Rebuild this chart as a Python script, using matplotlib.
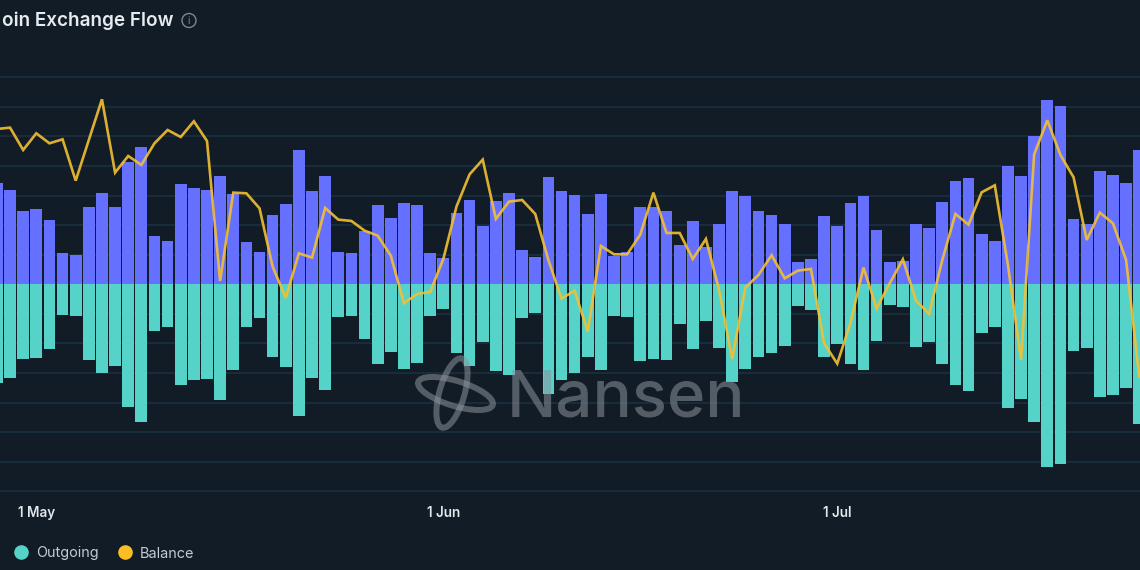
import matplotlib
matplotlib.use("Agg")
import matplotlib.pyplot as plt
import matplotlib.dates as mdates
import pandas as pd
from matplotlib.lines import Line2D
from matplotlib.patches import Ellipse, Circle

plt.rcParams['font.family'] = ['Inter', 'DejaVu Sans']

start_date = "2023-04-28"
incoming = [305,282,221,225,193,93,88,233,273,233,368,411,144,131,301,290,282,324,272,128,97,209,241,402,279,324,96,94,160,237,
            200,244,237,95,80,214,252,176,249,274,102,82,322,279,267,211,271,85,98,233,233,221,119,190,113,181,281,266,220,
            209,181,68,77,205,175,243,266,164,66,71,181,170,248,309,318,150,129,355,326,446,552,534,195,182,341,329,303,402]
outgoing = [297,282,225,222,195,92,95,226,267,245,367,413,141,129,303,288,285,348,258,128,100,219,247,395,280,316,98,95,164,238,
            204,253,235,95,74,206,246,174,260,271,102,85,329,286,265,218,257,96,97,230,225,228,119,195,110,191,292,255,218,
            206,184,66,78,219,179,238,257,171,62,67,188,172,239,301,321,145,129,370,343,412,547,540,200,192,338,331,310,420]
balance = [466,470,403,453,423,435,311,433,555,335,385,358,423,463,442,489,430,10,275,273,228,53,-41,93,80,229,194,190,161,146,
           86,-57,-29,-23,76,233,330,374,196,248,253,211,73,-43,-19,-142,115,90,90,149,275,154,154,76,136,-17,-224,-10,28,
           87,18,41,46,-177,-238,-117,50,-72,3,75,-49,-89,73,211,179,276,297,58,-227,390,492,388,321,133,215,183,73,-277]
tick_dates = ["2023-05-01", "2023-06-01", "2023-07-01"]
tick_labels = ["1 May", "1 Jun", "1 Jul"]
title = "oin Exchange Flow"

BG = "#121c26"
W, H = 1140, 570
fig = plt.figure(figsize=(W/100, H/100), dpi=100, facecolor=BG)
axis_px = 491.6
ax = fig.add_axes([0, (H-axis_px)/H, 1, axis_px/H], facecolor=BG)

days = pd.date_range(start_date, periods=len(incoming), freq="D")
x = mdates.date2num(days)
may1 = mdates.date2num(pd.Timestamp(tick_dates[0]))
day_px = 13.13
ax.set_xlim(may1 - 36.3/day_px, may1 + (W-36.3)/day_px)
ax.set_ylim(-622, 853)

ax.bar(x, incoming, width=0.89, color="#6670ff", zorder=2, label="Incoming")
ax.bar(x, [-v for v in outgoing], width=0.89, color="#56d3c9", zorder=2, label="Outgoing")
ax.plot(x, balance, color="#f3c032", lw=1.9, alpha=0.9, zorder=3, label="Balance", solid_joinstyle="miter")

grid_step = 88.8
ax.set_yticks([k*grid_step for k in range(-7, 8)])
ax.set_yticklabels([])
ax.grid(axis="y", color="#1b3144", lw=1.1, zorder=1)
ax.tick_params(axis="y", length=0)
ax.set_xticks(mdates.date2num(pd.to_datetime(tick_dates)))
ax.set_xticklabels(tick_labels, fontsize=9.7, fontweight="semibold", color="#e2e7ec")
ax.tick_params(axis="x", length=0, pad=10.5)
for s in ax.spines.values():
    s.set_visible(False)

fig.text(173.5/W, 1-21/H, title, ha="right", va="center", fontsize=13.6, fontweight="semibold", color="#e6ebf0")
fig.add_artist(Circle((189, H-20.5), 7, transform=None, fill=False, ec="#7d8790", lw=1.0))
fig.text(189/W, 1-20.5/H, "i", ha="center", va="center", fontsize=7.5, color="#7d8790")

handles = [Line2D([], [], ls="", marker="o", ms=10.5, mfc="#56d3c9", mec="none"),
           Line2D([], [], ls="", marker="o", ms=10.5, mfc="#fbbf24", mec="none")]
leg = fig.legend(handles, ["Outgoing", "Balance"], ncol=2, loc="center left",
                 bbox_to_anchor=(14/W, 1-553.5/H), frameon=False, fontsize=10.4,
                 handlelength=1.0, handletextpad=0.55, columnspacing=1.3, borderpad=0, borderaxespad=0)
for t in leg.get_texts():
    t.set_color("#c3cad2")

wm = "#8c939c"
wm_alpha = 0.55
for c, w, h, ang in [((455.5, H-393.5), 78, 25, -17), ((452, H-393), 25, 72, -16)]:
    fig.add_artist(Ellipse(c, w, h, angle=ang, transform=None, fill=False,
                           ec=wm, lw=4.3, alpha=wm_alpha, zorder=5))
fig.text(507/W, 1-416.5/H, "Nansen", ha="left", va="baseline", fontsize=47, fontweight="medium",
         color=wm, alpha=wm_alpha, zorder=5)

fig.savefig("out.png", dpi=100, facecolor=BG)
